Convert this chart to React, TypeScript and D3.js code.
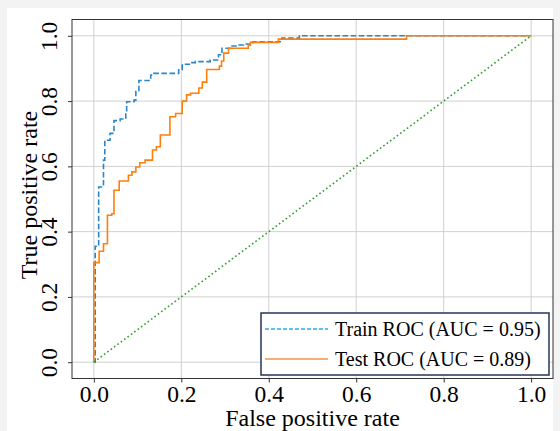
import React, { useEffect, useRef } from 'react';
import * as d3 from 'd3';

// ROC points (fpr where the curve rises, tpr after the rise)
const trainFpr = [0, 0.003, 0.011, 0.022, 0.025, 0.037, 0.046, 0.06, 0.073, 0.075, 0.092, 0.096, 0.103, 0.13, 0.137, 0.194, 0.202, 0.221, 0.232, 0.266, 0.285, 0.293, 0.312, 0.327, 0.342, 0.364, 0.43, 0.47, 1.0];
const trainTpr = [0, 0.355, 0.537, 0.619, 0.68, 0.701, 0.74, 0.745, 0.763, 0.798, 0.803, 0.829, 0.863, 0.88, 0.885, 0.896, 0.913, 0.918, 0.921, 0.926, 0.942, 0.962, 0.969, 0.972, 0.975, 0.982, 0.993, 1.0, 1.0];

const testFpr = [0, 0, 0.012, 0.022, 0.031, 0.041, 0.046, 0.058, 0.079, 0.087, 0.096, 0.105, 0.117, 0.134, 0.143, 0.152, 0.174, 0.187, 0.202, 0.212, 0.221, 0.24, 0.248, 0.258, 0.287, 0.292, 0.297, 0.308, 0.353, 0.358, 0.422, 0.715, 1.0];
const testTpr = [0, 0.305, 0.34, 0.363, 0.45, 0.455, 0.527, 0.555, 0.573, 0.583, 0.598, 0.611, 0.619, 0.65, 0.66, 0.696, 0.752, 0.762, 0.8, 0.819, 0.824, 0.84, 0.858, 0.897, 0.907, 0.923, 0.947, 0.962, 0.971, 0.98, 0.99, 1.0, 1.0];

const chanceLine = [0, 1];
const ticks = [0, 0.2, 0.4, 0.6, 0.8, 1.0];
const legendLabels = ['Train ROC (AUC = 0.95)', 'Test ROC (AUC = 0.89)'];

const FONT = '"Liberation Serif", "Times New Roman", serif';

const App = () => {
  const svgRef = useRef<SVGSVGElement>(null);

  useEffect(() => {
    const W = 560;
    const H = 431;
    const left = 72;
    const right = 553;
    const top = 19.5;
    const bottom = 378.5;

    const svg = d3.select(svgRef.current).attr('width', W).attr('height', H);
    svg.selectAll('*').remove();

    // background
    svg.append('rect').attr('width', W).attr('height', H).attr('fill', '#f3f3f3');
    svg.append('rect').attr('x', 7).attr('y', 8).attr('width', 546).attr('height', H - 8).attr('fill', '#ffffff');

    const x = d3.scaleLinear().domain([-0.05, 1.05]).range([left, right]);
    const y = d3.scaleLinear().domain([-0.05, 1.05]).range([bottom, top]);

    // grid
    const grid = svg.append('g');
    ticks.forEach(t => {
      grid.append('line')
        .attr('x1', x(t)).attr('x2', x(t)).attr('y1', top).attr('y2', bottom)
        .attr('stroke', '#d0d0d0').attr('stroke-width', 1);
      grid.append('line')
        .attr('x1', left).attr('x2', right).attr('y1', y(t)).attr('y2', y(t))
        .attr('stroke', '#d0d0d0').attr('stroke-width', 1);
    });

    const line = d3.line<[number, number]>()
      .x(d => x(d[0]))
      .y(d => y(d[1]))
      .curve(d3.curveStepAfter);

    const trainData = trainFpr.map((f, i) => [f, trainTpr[i]] as [number, number]);
    const testData = testFpr.map((f, i) => [f, testTpr[i]] as [number, number]);

    svg.append('path')
      .datum(trainData)
      .attr('d', line)
      .attr('fill', 'none')
      .attr('stroke', '#2a86c8')
      .attr('stroke-width', 1.6)
      .attr('stroke-dasharray', '5.5,2.6');

    svg.append('path')
      .datum(testData)
      .attr('d', line)
      .attr('fill', 'none')
      .attr('stroke', '#ff7f0e')
      .attr('stroke-width', 1.6);

    svg.append('line')
      .attr('x1', x(chanceLine[0])).attr('y1', y(chanceLine[0]))
      .attr('x2', x(chanceLine[1])).attr('y2', y(chanceLine[1]))
      .attr('stroke', '#2ca02c')
      .attr('stroke-width', 1.6)
      .attr('stroke-dasharray', '1.6,2.6');

    // spines
    svg.append('rect')
      .attr('x', left).attr('y', top)
      .attr('width', right - left).attr('height', bottom - top)
      .attr('fill', 'none').attr('stroke', '#333').attr('stroke-width', 1);

    // x axis
    const xAxis = svg.append('g')
      .attr('transform', `translate(0, ${bottom})`)
      .call(d3.axisBottom(x).tickValues(ticks).tickFormat(d3.format('.1f')).tickSize(4));
    xAxis.select('.domain').remove();
    xAxis.selectAll('line').attr('stroke', '#333');
    xAxis.selectAll('text')
      .attr('y', 23.5)
      .attr('dy', null)
      .attr('fill', '#000')
      .style('font-family', FONT)
      .style('font-size', '23.5px');

    // y axis with rotated labels
    const yAxis = svg.append('g')
      .attr('transform', `translate(${left}, 0)`)
      .call(d3.axisLeft(y).tickValues(ticks).tickFormat(d3.format('.1f')).tickSize(4));
    yAxis.select('.domain').remove();
    yAxis.selectAll('line').attr('stroke', '#333');
    yAxis.selectAll('text')
      .attr('x', null)
      .attr('dy', null)
      .attr('fill', '#000')
      .attr('text-anchor', 'middle')
      .attr('transform', 'translate(-15, 0) rotate(-90)')
      .style('font-family', FONT)
      .style('font-size', '23.5px');

    // axis titles
    svg.append('text')
      .attr('x', (left + right) / 2)
      .attr('y', 425.5)
      .attr('text-anchor', 'middle')
      .style('font-family', FONT)
      .style('font-size', '24px')
      .text('False positive rate');

    svg.append('text')
      .attr('transform', `translate(37, ${(top + bottom) / 2 - 4}) rotate(-90)`)
      .attr('text-anchor', 'middle')
      .style('font-family', FONT)
      .style('font-size', '24px')
      .text('True positive rate');

    // legend
    const lg = svg.append('g');
    lg.append('rect')
      .attr('x', 261).attr('y', 313).attr('width', 288).attr('height', 62)
      .attr('fill', '#fff').attr('stroke', '#25355a').attr('stroke-width', 1.5);

    const handles = [
      { color: '#2aaee6', dash: '4,2', y: 329 },
      { color: '#f5924a', dash: null, y: 359 },
    ];
    handles.forEach((h, i) => {
      lg.append('line')
        .attr('x1', 265).attr('x2', 328).attr('y1', h.y).attr('y2', h.y)
        .attr('stroke', h.color).attr('stroke-width', 1.3)
        .attr('stroke-dasharray', h.dash);
      lg.append('text')
        .attr('x', 335).attr('y', h.y + 7)
        .style('font-family', FONT)
        .style('font-size', '20px')
        .text(legendLabels[i]);
    });
  }, []);

  return <svg ref={svgRef} style={{ position: 'absolute', left: 0, top: 0 }}></svg>;
};

export default App;
